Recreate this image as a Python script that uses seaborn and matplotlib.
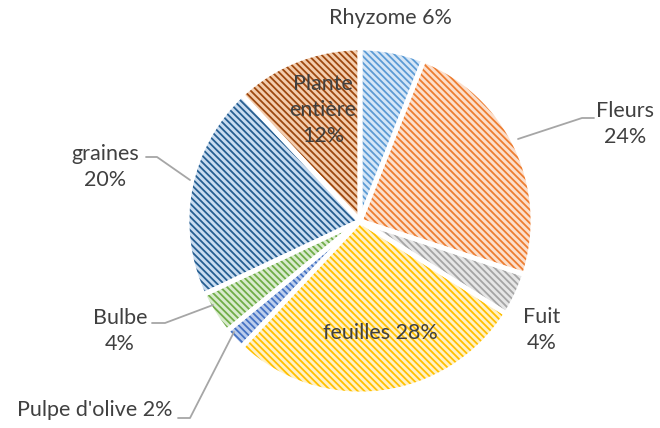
import matplotlib
matplotlib.use('Agg')
import matplotlib.pyplot as plt
import seaborn as sns
import numpy as np

# données
categories = ['Rhyzome', 'Fleurs', 'Fuit', 'feuilles', "Pulpe d'olive", 'Bulbe', 'graines', 'Plante entière']
valeurs = [6, 24, 4, 28, 2, 4, 20, 12]
fond = ['#D6E6F6', '#FCDFCC', '#E6E6E6', '#FFF1C6', '#BCCDEB', '#D9EBCD', '#C9DCF0', '#F3CDAE']
hachure = ['#5B9BD5', '#ED7D31', '#A5A5A5', '#FFC000', '#4472C4', '#70AD47', '#255E91', '#9E480E']
etiquettes = ['Rhyzome 6%', 'Fleurs\n24%', 'Fuit\n4%', 'feuilles 28%', "Pulpe d'olive 2%",
              'Bulbe\n4%', 'graines\n20%', 'Plante\nentière\n12%']

sns.set_theme(style='white')
plt.rcParams['font.family'] = ['Lato', 'DejaVu Sans']
plt.rcParams['hatch.linewidth'] = 1.3

fig = plt.figure(figsize=(6.6, 4.28), dpi=100)
ax = fig.add_axes([0, 0, 1, 1])

centre = (360, 221)
rayon = 173

# axe y inversé (coordonnées en pixels) -> sens trigonométrique inversé
wedges, _ = ax.pie(valeurs, colors=fond, startangle=270, counterclock=True,
                   center=centre, radius=rayon, frame=True,
                   wedgeprops=dict(linewidth=0))
for w, c in zip(wedges, hachure):
    w.set_hatch('\\\\\\\\\\')
    w.set_edgecolor(c)
    w.set_linewidth(0)

# bordures blanches (séparation des parts)
ax.pie(valeurs, colors=['none'] * len(valeurs), startangle=270, counterclock=True,
       center=centre, radius=rayon, frame=True,
       wedgeprops=dict(linewidth=3.5, edgecolor='white'))
ax.set_xlim(0, 660)
ax.set_ylim(428, 0)
ax.axis('off')

# étiquettes
pos = [(390, 18), (625, 124), (542, 330), (380, 333),
       (95, 410), (120, 331), (105, 167), (323, 110)]
for txt, (x, y) in zip(etiquettes, pos):
    ax.text(x, y, txt, ha='center', va='center', fontsize=15.5, color='#404040', linespacing=1.4)

# lignes de rappel
gris = '#A6A6A6'
ax.plot([518, 582, 594], [139, 118, 118], color=gris, lw=1.3)
ax.plot([213, 165, 152], [305, 323, 323], color=gris, lw=1.3)
ax.plot([234, 190, 178], [332, 418, 418], color=gris, lw=1.3)
ax.plot([190, 157, 146], [180, 157, 157], color=gris, lw=1.3)

fig.savefig('out.png', dpi=100)
